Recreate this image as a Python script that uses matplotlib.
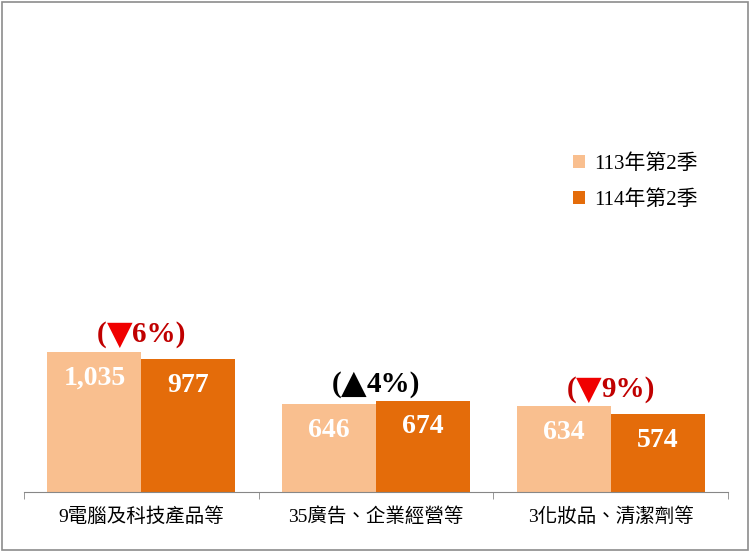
import numpy as np
import matplotlib
matplotlib.use('Agg')
import matplotlib.pyplot as plt
from matplotlib.patches import Rectangle
from matplotlib.offsetbox import TextArea, HPacker, AnnotationBbox

# data
categories = ['9電腦及科技產品等', '35廣告、企業經營等', '3化妝品、清潔劑等']
series_names = ['113年第2季', '114年第2季']
values_113 = [1035, 646, 634]
values_114 = [977, 674, 574]
change_arrows = ['▼', '▲', '▼']
change_pcts = ['6%', '4%', '9%']
text_colors = ['#C00000', '#000000', '#C00000']
arrow_colors = ['#F00000', '#000000', '#F00000']

LIGHT = '#F9BF8F'
DARK = '#E46C0A'
FONTS = ['Liberation Serif', 'Noto Sans CJK TC', 'DejaVu Sans']
plt.rcParams['font.family'] = FONTS

fig = plt.figure(figsize=(7.5, 5.52), dpi=100)
ax = fig.add_axes([0.032, 0.1087, 0.9387, 0.873])

x = np.arange(len(categories))
w = 0.4
b1 = ax.bar(x - w / 2, values_113, w, color=LIGHT, label=series_names[0])
b2 = ax.bar(x + w / 2, values_114, w, color=DARK, label=series_names[1])

for bars, vals in ((b1, values_113), (b2, values_114)):
    for r, v in zip(bars, vals):
        ax.annotate(f'{v:,}', (r.get_x() + r.get_width() / 2, v),
                    xytext=(0, -19), textcoords='offset points',
                    ha='center', va='center', color='white',
                    fontsize=20, fontweight='bold')

# change labels: "(" + arrow + "n%)" packed side by side
for i in range(len(categories)):
    top = max(values_113[i], values_114[i])
    tp = dict(color=text_colors[i], fontsize=21, fontweight='bold',
              family='Liberation Serif')
    parts = [
        TextArea('(', textprops=tp),
        TextArea(change_arrows[i], textprops=dict(color=arrow_colors[i], fontsize=24,
                                                  family='DejaVu Sans')),
        TextArea(change_pcts[i] + ')', textprops=tp),
    ]
    box = HPacker(children=parts, align='center', pad=0, sep=0)
    ab = AnnotationBbox(box, (x[i], top), xybox=(0, 12), boxcoords='offset points',
                        frameon=False, box_alignment=(0.5, 0.5), pad=0)
    ax.add_artist(ab)

ax.set_xlim(-0.5, len(categories) - 0.5)
ax.set_ylim(0, 3550)
ax.set_yticks([])
for s in ('top', 'right', 'left'):
    ax.spines[s].set_visible(False)
ax.spines['bottom'].set_color('#878787')
ax.set_xticks(x)
ax.set_xticklabels(categories, fontsize=14)
ax.tick_params(axis='x', which='major', length=0, pad=11)
ax.set_xticks(np.arange(-0.5, len(categories)), minor=True)
ax.tick_params(axis='x', which='minor', length=5, color='#878787')

leg = ax.legend(loc='upper left', bbox_to_anchor=(0.753, 0.74), frameon=False,
                fontsize=15, handlelength=0.6, handleheight=0.6,
                handletextpad=0.4, labelspacing=0.8)

fig.patches.append(Rectangle((0.002, 0.003), 0.995, 0.994, transform=fig.transFigure,
                             fill=False, edgecolor='#8C8C8C', linewidth=1.2))

fig.savefig('out.png', dpi=100)
